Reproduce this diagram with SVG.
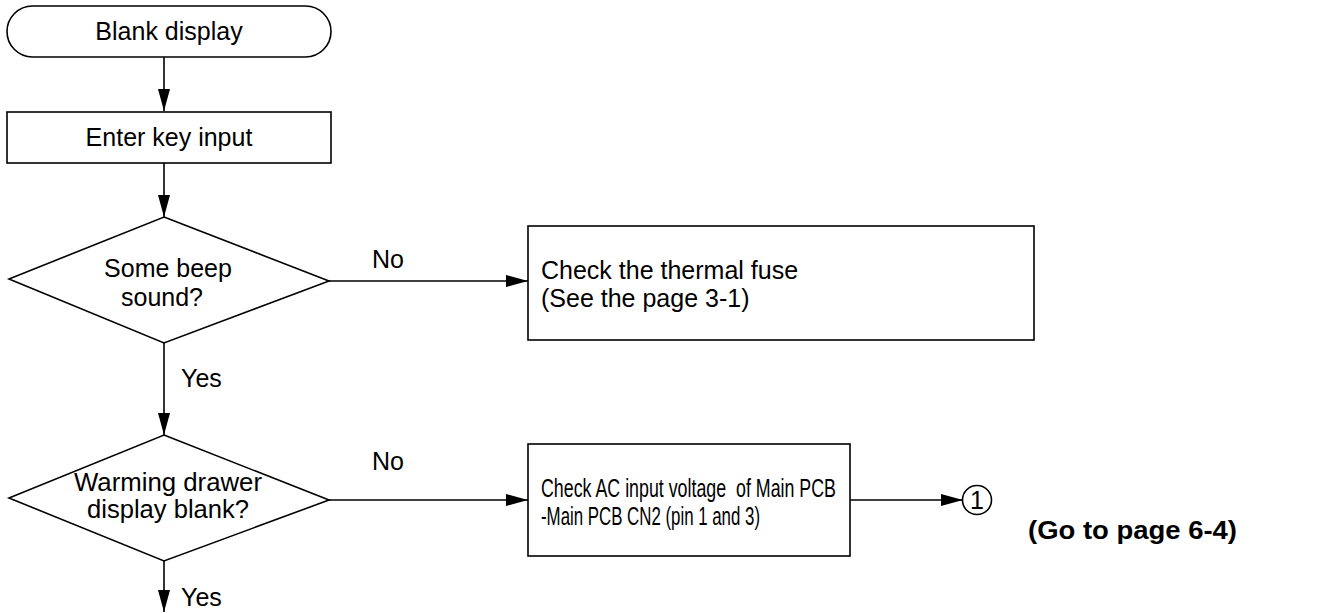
<svg xmlns="http://www.w3.org/2000/svg" width="1344" height="613" viewBox="0 0 1344 613">
<style>
.s{fill:#fff;stroke:#000;stroke-width:1.6}
.t{font-family:"Liberation Sans",Arial,sans-serif;font-size:25px;fill:#000}
.c{text-anchor:middle}
.b{font-weight:bold}
.e{fill:none;stroke:#000;stroke-width:1.6}
</style>
<defs>
<marker id="ah" markerUnits="userSpaceOnUse" markerWidth="24" markerHeight="14" refX="22" refY="6" orient="auto">
<path d="M0,0 L22,6 L0,12 Z" fill="#000"/>
</marker>
</defs>
<rect width="1344" height="613" fill="#fff"/>
<g id="connectors">
<line class="e" x1="164" y1="57" x2="164" y2="111" marker-end="url(#ah)"/>
<line class="e" x1="164" y1="163" x2="164" y2="217" marker-end="url(#ah)"/>
<line class="e" x1="329" y1="281" x2="528" y2="281" marker-end="url(#ah)"/>
<text class="t" x="372" y="268">No</text>
<line class="e" x1="164" y1="343" x2="164" y2="435" marker-end="url(#ah)"/>
<text class="t" x="181" y="387">Yes</text>
<line class="e" x1="329" y1="500" x2="528" y2="500" marker-end="url(#ah)"/>
<text class="t" x="372" y="470">No</text>
<line class="e" x1="164" y1="561" x2="164" y2="612" marker-end="url(#ah)"/>
<text class="t" x="181" y="606">Yes</text>
<line class="e" x1="850" y1="500" x2="963" y2="500" marker-end="url(#ah)"/>
</g>
<g id="start">
<rect class="s" x="7" y="6" width="324" height="51" rx="25.5" ry="25.5"/>
<text class="t c" x="169" y="40" font-size="26">Blank display</text>
</g>
<g id="enter">
<rect class="s" x="7" y="112" width="324" height="51"/>
<text class="t c" x="169" y="146">Enter key input</text>
</g>
<g id="beep">
<polygon class="s" points="164,217 329,281 164,343 9,279"/>
<text class="t c" x="168" y="277" font-size="26">Some beep</text>
<text class="t c" x="162" y="306" font-size="26">sound?</text>
</g>
<g id="fuse">
<rect class="s" x="528" y="226" width="506" height="114"/>
<text class="t" x="541" y="279" font-size="26">Check the thermal fuse</text>
<text class="t" x="541" y="307" font-size="26">(See the page 3-1)</text>
</g>
<g id="warm">
<polygon class="s" points="164,435 329,500 164,561 9,498"/>
<text class="t c" x="168" y="491" font-size="24" textLength="188" lengthAdjust="spacingAndGlyphs">Warming drawer</text>
<text class="t c" x="168" y="518" font-size="24" textLength="162" lengthAdjust="spacingAndGlyphs">display blank?</text>
</g>
<g id="acv">
<rect class="s" x="528" y="444" width="322" height="112"/>
<text class="t" x="541" y="497" font-size="26" textLength="295" lengthAdjust="spacingAndGlyphs">Check AC input voltage&#160; of Main PCB</text>
<text class="t" x="541" y="525" font-size="26" textLength="219" lengthAdjust="spacingAndGlyphs">-Main PCB CN2 (pin 1 and 3)</text>
</g>
<g id="conn1">
<circle class="s" cx="977" cy="500" r="14.5"/>
<text class="t c" x="977" y="509" font-size="25">1</text>
<text class="t b" x="1028" y="539" textLength="209" lengthAdjust="spacingAndGlyphs">(Go to page 6-4)</text>
</g>
</svg>
